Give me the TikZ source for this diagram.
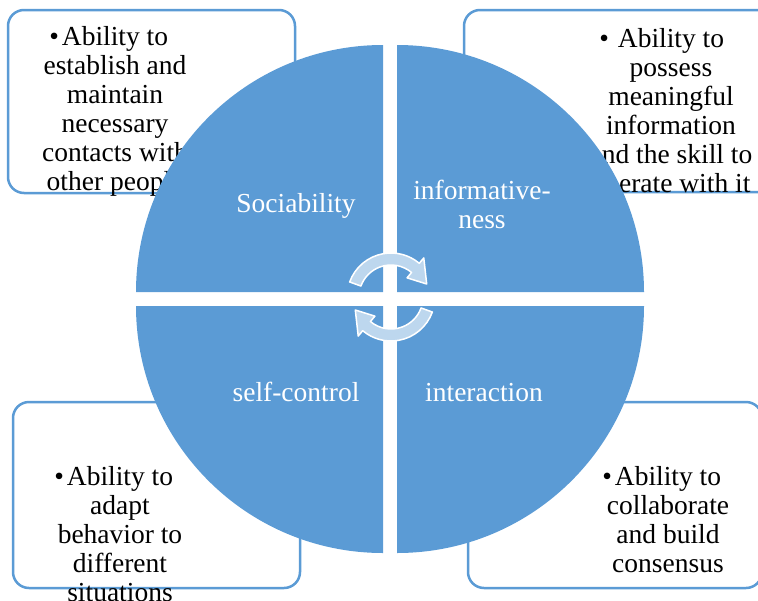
\documentclass[tikz,border=0pt]{standalone}
\usepackage{fontspec}
\setmainfont{Liberation Serif}
\usetikzlibrary{calc}
\definecolor{quadblue}{RGB}{91,155,213}
\definecolor{arrowblue}{RGB}{189,215,238}

\begin{document}
\begin{tikzpicture}[x=1pt, y=-1pt,
    descbox/.style={draw=quadblue, line width=2.5pt, fill=white, rounded corners=16pt, inner sep=0pt, outer sep=0pt},
    desctext/.style={anchor=north, align=center, inner sep=0pt, font=\fontsize{27.5}{29}\selectfont},
    quadrant/.style={fill=quadblue},
    quadlabel/.style={text=white, align=center, inner sep=0pt, font=\fontsize{27.5}{29}\selectfont},
    cyclearrow/.style={fill=arrowblue, draw=white, line width=1.5pt, line join=round}]
    \useasboundingbox (0,0) rectangle (758,600);
    \clip (0,0) rectangle (758,600);
    % description boxes
    \node[descbox, minimum width=287pt, minimum height=183pt] (socBox) at (151.5,101.5) {};
    \node[descbox, minimum width=311pt, minimum height=182pt] (infBox) at (619.5,101) {};
    \node[descbox, minimum width=287pt, minimum height=186pt] (selfBox) at (156.5,495) {};
    \node[descbox, minimum width=294pt, minimum height=186pt] (interBox) at (615,495) {};
    \node[desctext] (socText) at (115,26) {\llap{\textbullet\hspace{3pt}}Ability to\\establish and\\maintain\\necessary\\contacts with\\other people};
    \node[desctext] (infText) at (671,28) {\llap{\textbullet\hspace{9pt}}Ability to\\possess\\meaningful\\information\\and the skill to\\operate with it};
    \node[desctext] (selfText) at (120,466) {\llap{\textbullet\hspace{3pt}}Ability to\\adapt\\behavior to\\different\\situations};
    \node[desctext] (interText) at (668,466) {\llap{\textbullet\hspace{3pt}}Ability to\\collaborate\\and build\\consensus};
    % quadrants
    \fill[quadrant] (383,292) -- ++(-247,0) arc[start angle=180, end angle=270, radius=247] -- cycle;
    \fill[quadrant] (397,292) -- ++(0,-247) arc[start angle=270, end angle=360, radius=247] -- cycle;
    \fill[quadrant] (397,306) -- ++(247,0) arc[start angle=0, end angle=90, radius=247] -- cycle;
    \fill[quadrant] (383,306) -- ++(0,247) arc[start angle=90, end angle=180, radius=247] -- cycle;
    \node[quadlabel, anchor=base] (socLabel) at (296,212) {Sociability};
    \node[quadlabel, anchor=north] (infLabel) at (482,180) {informative-\\ness};
    \node[quadlabel, anchor=base] (selfLabel) at (296,401) {self-control};
    \node[quadlabel, anchor=base] (interLabel) at (484,401) {interaction};
    % cycle arrows
    \coordinate (hub) at (391,297);
    \draw[cyclearrow] ($(hub)+(-160:44)$) arc[start angle=-160, end angle=-50, radius=44]
        -- ($(hub)+(-50:51)$) -- ($(hub)+(-20:38)$) -- ($(hub)+(-50:25)$) -- ($(hub)+(-50:32)$)
        arc[start angle=-50, end angle=-160, radius=32] -- cycle;
    \draw[cyclearrow] ($(hub)+(20:44)$) arc[start angle=20, end angle=130, radius=44]
        -- ($(hub)+(130:51)$) -- ($(hub)+(160:38)$) -- ($(hub)+(130:25)$) -- ($(hub)+(130:32)$)
        arc[start angle=130, end angle=20, radius=32] -- cycle;
\end{tikzpicture}
\end{document}
